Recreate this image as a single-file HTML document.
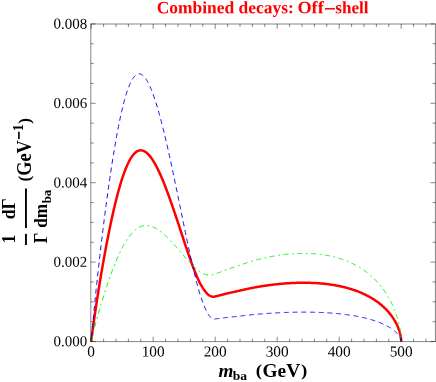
<!DOCTYPE html>
<html><head><meta charset="utf-8"><title>Combined decays: Off-shell</title>
<style>
html,body{margin:0;padding:0;background:#fff;}
svg{display:block;will-change:transform;font-family:"Liberation Serif",serif;}
</style></head>
<body>
<svg width="436" height="382" viewBox="0 0 436 382">
<rect width="436" height="382" fill="#ffffff"/>
<path d="M91.20,341.50 L91.82,336.66 L92.44,331.93 L93.06,327.31 L93.68,322.79 L94.30,318.36 L94.92,314.02 L95.54,309.77 L96.16,305.59 L96.78,301.49 L97.40,297.45 L98.02,293.48 L98.64,289.58 L99.26,285.73 L99.88,281.94 L100.50,278.20 L101.12,274.52 L101.74,270.89 L102.36,267.31 L102.98,263.77 L103.60,260.29 L104.22,256.85 L104.84,253.46 L105.46,250.11 L106.08,246.81 L106.70,243.56 L107.32,240.35 L107.94,237.18 L108.56,234.07 L109.18,231.00 L109.80,227.97 L110.42,225.00 L111.04,222.07 L111.66,219.19 L112.28,216.36 L112.90,213.58 L113.52,210.86 L114.14,208.18 L114.76,205.56 L115.38,202.99 L116.00,200.47 L116.62,198.01 L117.24,195.61 L117.86,193.26 L118.48,190.97 L119.10,188.74 L119.72,186.57 L120.34,184.46 L120.96,182.40 L121.58,180.41 L122.20,178.48 L122.82,176.62 L123.44,174.81 L124.06,173.07 L124.68,171.39 L125.30,169.78 L125.92,168.23 L126.54,166.74 L127.16,165.32 L127.78,163.97 L128.40,162.68 L129.02,161.45 L129.64,160.29 L130.26,159.20 L130.88,158.17 L131.50,157.20 L132.12,156.30 L132.74,155.47 L133.36,154.70 L133.98,153.99 L134.60,153.35 L135.22,152.77 L135.84,152.26 L136.46,151.80 L137.08,151.41 L137.70,151.08 L138.32,150.82 L138.94,150.61 L139.56,150.46 L140.18,150.37 L140.80,150.34 L141.42,150.37 L142.04,150.46 L142.66,150.60 L143.28,150.79 L143.90,151.05 L144.52,151.35 L145.14,151.71 L145.76,152.12 L146.38,152.58 L147.00,153.10 L147.62,153.66 L148.24,154.27 L148.86,154.93 L149.48,155.63 L150.10,156.38 L150.72,157.18 L151.34,158.02 L151.96,158.90 L152.58,159.83 L153.20,160.79 L153.82,161.80 L154.44,162.85 L155.06,163.93 L155.68,165.05 L156.30,166.21 L156.92,167.40 L157.54,168.63 L158.16,169.89 L158.78,171.19 L159.40,172.51 L160.02,173.87 L160.64,175.25 L161.26,176.67 L161.88,178.11 L162.50,179.59 L163.12,181.08 L163.74,182.61 L164.36,184.15 L164.98,185.73 L165.60,187.32 L166.22,188.94 L166.84,190.58 L167.46,192.23 L168.08,193.91 L168.70,195.61 L169.32,197.32 L169.94,199.05 L170.56,200.80 L171.18,202.56 L171.80,204.34 L172.42,206.13 L173.04,207.94 L173.66,209.75 L174.28,211.58 L174.90,213.41 L175.52,215.26 L176.14,217.11 L176.76,218.97 L177.38,220.84 L178.00,222.71 L178.62,224.59 L179.24,226.47 L179.86,228.35 L180.48,230.24 L181.10,232.12 L181.72,234.00 L182.34,235.89 L182.96,237.76 L183.58,239.64 L184.20,241.51 L184.82,243.37 L185.44,245.23 L186.06,247.08 L186.68,248.91 L187.30,250.74 L187.92,252.55 L188.54,254.35 L189.16,256.13 L189.78,257.90 L190.40,259.64 L191.02,261.37 L191.64,263.08 L192.26,264.76 L192.88,266.42 L193.50,268.05 L194.12,269.66 L194.74,271.23 L195.36,272.78 L195.98,274.29 L196.60,275.77 L197.22,277.21 L197.84,278.62 L198.46,279.98 L199.08,281.31 L199.70,282.58 L200.32,283.76 L200.94,284.86 L201.56,285.91 L202.18,286.94 L202.80,287.92 L203.42,288.85 L204.04,289.73 L204.66,290.58 L205.28,291.40 L205.90,292.18 L206.52,292.92 L207.14,293.60 L207.76,294.22 L208.38,294.76 L209.00,295.22 L209.62,295.62 L210.24,295.94 L210.86,296.21 L211.48,296.43 L212.10,296.63 L212.72,296.77 L213.34,296.81 L213.96,296.74 L214.58,296.60 L215.20,296.45 L215.82,296.29 L216.44,296.14 L217.06,295.99 L217.68,295.84 L218.30,295.69 L218.92,295.55 L219.54,295.40 L220.16,295.24 L220.78,295.08 L221.40,294.92 L222.02,294.76 L222.64,294.60 L223.26,294.43 L223.88,294.27 L224.50,294.11 L225.12,293.95 L225.74,293.79 L226.36,293.63 L226.98,293.48 L227.60,293.32 L228.22,293.17 L228.84,293.03 L229.46,292.89 L230.08,292.75 L230.70,292.62 L231.32,292.50 L231.94,292.37 L232.56,292.25 L233.18,292.12 L233.80,291.99 L234.42,291.86 L235.04,291.72 L235.66,291.58 L236.28,291.44 L236.90,291.29 L237.52,291.15 L238.14,291.01 L238.76,290.86 L239.38,290.72 L240.00,290.58 L240.62,290.43 L241.24,290.29 L241.86,290.15 L242.48,290.00 L243.10,289.86 L243.72,289.72 L244.34,289.58 L244.96,289.44 L245.58,289.30 L246.20,289.16 L246.82,289.03 L247.44,288.89 L248.06,288.75 L248.68,288.62 L249.30,288.49 L249.92,288.36 L250.54,288.23 L251.16,288.11 L251.78,287.98 L252.40,287.86 L253.02,287.74 L253.64,287.62 L254.26,287.50 L254.88,287.39 L255.50,287.28 L256.12,287.17 L256.74,287.06 L257.36,286.95 L257.98,286.85 L258.60,286.74 L259.22,286.64 L259.84,286.54 L260.46,286.43 L261.08,286.33 L261.70,286.24 L262.32,286.14 L262.94,286.04 L263.56,285.95 L264.18,285.85 L264.80,285.76 L265.42,285.67 L266.04,285.58 L266.66,285.49 L267.28,285.40 L267.90,285.31 L268.52,285.23 L269.14,285.15 L269.76,285.06 L270.38,284.98 L271.00,284.90 L271.62,284.82 L272.24,284.75 L272.86,284.67 L273.48,284.60 L274.10,284.52 L274.72,284.45 L275.34,284.38 L275.96,284.32 L276.58,284.25 L277.20,284.18 L277.82,284.12 L278.44,284.06 L279.06,284.00 L279.68,283.94 L280.30,283.88 L280.92,283.82 L281.54,283.77 L282.16,283.71 L282.78,283.66 L283.40,283.61 L284.02,283.56 L284.64,283.51 L285.26,283.46 L285.88,283.42 L286.50,283.37 L287.12,283.33 L287.74,283.29 L288.36,283.25 L288.98,283.21 L289.60,283.17 L290.22,283.14 L290.84,283.10 L291.46,283.07 L292.08,283.04 L292.70,283.01 L293.32,282.98 L293.94,282.95 L294.56,282.93 L295.18,282.91 L295.80,282.88 L296.42,282.86 L297.04,282.85 L297.66,282.83 L298.28,282.81 L298.90,282.80 L299.52,282.79 L300.14,282.78 L300.76,282.77 L301.38,282.76 L302.00,282.75 L302.62,282.75 L303.24,282.75 L303.86,282.75 L304.48,282.75 L305.10,282.75 L305.72,282.76 L306.34,282.76 L306.96,282.77 L307.58,282.78 L308.20,282.79 L308.82,282.80 L309.44,282.82 L310.06,282.84 L310.68,282.86 L311.30,282.88 L311.92,282.90 L312.54,282.92 L313.16,282.95 L313.78,282.98 L314.40,283.01 L315.02,283.04 L315.64,283.08 L316.26,283.11 L316.88,283.15 L317.50,283.19 L318.12,283.23 L318.74,283.28 L319.36,283.33 L319.98,283.37 L320.60,283.43 L321.22,283.48 L321.84,283.53 L322.46,283.59 L323.08,283.65 L323.70,283.71 L324.32,283.78 L324.94,283.84 L325.56,283.91 L326.18,283.98 L326.80,284.06 L327.42,284.13 L328.04,284.21 L328.66,284.29 L329.28,284.37 L329.90,284.46 L330.52,284.55 L331.14,284.64 L331.76,284.73 L332.38,284.83 L333.00,284.92 L333.62,285.02 L334.24,285.13 L334.86,285.23 L335.48,285.34 L336.10,285.45 L336.72,285.57 L337.34,285.69 L337.96,285.81 L338.58,285.93 L339.20,286.06 L339.82,286.18 L340.44,286.32 L341.06,286.45 L341.68,286.59 L342.30,286.73 L342.92,286.88 L343.54,287.02 L344.16,287.17 L344.78,287.33 L345.40,287.49 L346.02,287.65 L346.64,287.81 L347.26,287.98 L347.88,288.15 L348.50,288.33 L349.12,288.50 L349.74,288.69 L350.36,288.87 L350.98,289.06 L351.60,289.26 L352.22,289.45 L352.84,289.66 L353.46,289.86 L354.08,290.07 L354.70,290.29 L355.32,290.51 L355.94,290.73 L356.56,290.96 L357.18,291.19 L357.80,291.42 L358.42,291.67 L359.04,291.91 L359.66,292.16 L360.28,292.42 L360.90,292.68 L361.52,292.94 L362.14,293.22 L362.76,293.49 L363.38,293.77 L364.00,294.06 L364.62,294.35 L365.24,294.65 L365.86,294.96 L366.48,295.27 L367.10,295.59 L367.72,295.91 L368.34,296.24 L368.96,296.58 L369.58,296.92 L370.20,297.27 L370.82,297.63 L371.44,297.99 L372.06,298.36 L372.68,298.75 L373.30,299.13 L373.92,299.53 L374.54,299.93 L375.16,300.35 L375.78,300.77 L376.40,301.20 L377.02,301.64 L377.64,302.09 L378.26,302.55 L378.88,303.03 L379.50,303.51 L380.12,304.00 L380.74,304.51 L381.36,305.02 L381.98,305.55 L382.60,306.10 L383.22,306.65 L383.84,307.22 L384.46,307.81 L385.08,308.41 L385.70,309.03 L386.32,309.66 L386.94,310.32 L387.56,310.99 L388.18,311.68 L388.80,312.40 L389.01,312.64 L389.21,312.88 L389.42,313.13 L389.62,313.38 L389.82,313.62 L390.02,313.87 L390.22,314.12 L390.41,314.36 L390.60,314.61 L390.80,314.86 L390.99,315.11 L391.17,315.36 L391.36,315.61 L391.55,315.86 L391.73,316.11 L391.91,316.36 L392.09,316.61 L392.27,316.87 L392.44,317.12 L392.62,317.37 L392.79,317.62 L392.96,317.88 L393.13,318.13 L393.30,318.38 L393.46,318.64 L393.63,318.89 L393.79,319.15 L393.95,319.40 L394.11,319.66 L394.26,319.92 L394.42,320.17 L394.57,320.43 L394.72,320.68 L394.87,320.94 L395.02,321.20 L395.17,321.46 L395.31,321.71 L395.45,321.97 L395.60,322.23 L395.74,322.49 L395.87,322.74 L396.01,323.00 L396.14,323.26 L396.27,323.52 L396.40,323.78 L396.53,324.03 L396.66,324.29 L396.79,324.55 L396.91,324.81 L397.03,325.07 L397.15,325.33 L397.27,325.59 L397.39,325.84 L397.50,326.10 L397.61,326.36 L397.72,326.62 L397.83,326.88 L397.94,327.13 L398.05,327.39 L398.15,327.65 L398.25,327.91 L398.36,328.16 L398.45,328.42 L398.55,328.68 L398.65,328.94 L398.74,329.19 L398.83,329.45 L398.92,329.70 L399.01,329.96 L399.10,330.22 L399.18,330.47 L399.27,330.72 L399.35,330.98 L399.43,331.23 L399.50,331.49 L399.58,331.74 L399.66,331.99 L399.73,332.24 L399.80,332.49 L399.87,332.74 L399.94,333.00 L400.00,333.24 L400.07,333.49 L400.13,333.74 L400.19,333.99 L400.25,334.24 L400.30,334.48 L400.36,334.73 L400.41,334.97 L400.46,335.22 L400.51,335.46 L400.56,335.70 L400.61,335.94 L400.65,336.18 L400.70,336.42 L400.74,336.66 L400.78,336.89 L400.81,337.13 L400.85,337.36 L400.88,337.59 L400.92,337.83 L400.95,338.06 L400.98,338.28 L401.00,338.51 L401.03,338.73 L401.05,338.95 L401.07,339.17 L401.09,339.39 L401.11,339.61 L401.13,339.82 L401.14,340.03 L401.16,340.24 L401.17,340.44 L401.18,340.64 L401.19,340.83 L401.19,341.01 L401.20,341.19 L401.20,341.36 L401.20,341.50" fill="none" stroke="#ff0000" stroke-width="2.5" stroke-linejoin="round"/>
<path d="M91.20,341.50 L91.82,334.47 L92.44,327.62 L93.06,320.93 L93.68,314.40 L94.30,308.00 L94.92,301.73 L95.54,295.59 L96.16,289.57 L96.78,283.66 L97.40,277.85 L98.02,272.14 L98.64,266.52 L99.26,260.99 L99.88,255.55 L100.50,250.19 L101.12,244.91 L101.74,239.70 L102.36,234.57 L102.98,229.52 L103.60,224.53 L104.22,219.62 L104.84,214.77 L105.46,210.00 L106.08,205.29 L106.70,200.65 L107.32,196.08 L107.94,191.58 L108.56,187.15 L109.18,182.79 L109.80,178.49 L110.42,174.27 L111.04,170.13 L111.66,166.05 L112.28,162.05 L112.90,158.13 L113.52,154.28 L114.14,150.51 L114.76,146.82 L115.38,143.21 L116.00,139.69 L116.62,136.24 L117.24,132.88 L117.86,129.60 L118.48,126.41 L119.10,123.31 L119.72,120.30 L120.34,117.37 L120.96,114.54 L121.58,111.79 L122.20,109.14 L122.82,106.59 L123.44,104.12 L124.06,101.75 L124.68,99.48 L125.30,97.30 L125.92,95.22 L126.54,93.23 L127.16,91.34 L127.78,89.55 L128.40,87.86 L129.02,86.26 L129.64,84.76 L130.26,83.36 L130.88,82.06 L131.50,80.85 L132.12,79.74 L132.74,78.73 L133.36,77.81 L133.98,76.99 L134.60,76.27 L135.22,75.64 L135.84,75.11 L136.46,74.67 L137.08,74.32 L137.70,74.07 L138.32,73.91 L138.94,73.83 L139.56,73.85 L140.18,73.96 L140.80,74.15 L141.42,74.43 L142.04,74.80 L142.66,75.25 L143.28,75.78 L143.90,76.40 L144.52,77.09 L145.14,77.87 L145.76,78.72 L146.38,79.65 L147.00,80.66 L147.62,81.74 L148.24,82.89 L148.86,84.12 L149.48,85.41 L150.10,86.77 L150.72,88.20 L151.34,89.70 L151.96,91.26 L152.58,92.88 L153.20,94.56 L153.82,96.30 L154.44,98.10 L155.06,99.96 L155.68,101.88 L156.30,103.84 L156.92,105.86 L157.54,107.94 L158.16,110.06 L158.78,112.23 L159.40,114.45 L160.02,116.71 L160.64,119.02 L161.26,121.37 L161.88,123.76 L162.50,126.20 L163.12,128.67 L163.74,131.18 L164.36,133.73 L164.98,136.31 L165.60,138.92 L166.22,141.57 L166.84,144.25 L167.46,146.96 L168.08,149.70 L168.70,152.47 L169.32,155.26 L169.94,158.08 L170.56,160.92 L171.18,163.78 L171.80,166.66 L172.42,169.57 L173.04,172.49 L173.66,175.43 L174.28,178.38 L174.90,181.35 L175.52,184.34 L176.14,187.33 L176.76,190.34 L177.38,193.35 L178.00,196.37 L178.62,199.40 L179.24,202.43 L179.86,205.47 L180.48,208.51 L181.10,211.54 L181.72,214.58 L182.34,217.61 L182.96,220.64 L183.58,223.67 L184.20,226.68 L184.82,229.69 L185.44,232.68 L186.06,235.66 L186.68,238.62 L187.30,241.57 L187.92,244.50 L188.54,247.40 L189.16,250.28 L189.78,253.14 L190.40,255.97 L191.02,258.76 L191.64,261.53 L192.26,264.26 L192.88,266.95 L193.50,269.61 L194.12,272.22 L194.74,274.78 L195.36,277.30 L195.98,279.78 L196.60,282.19 L197.22,284.56 L197.84,286.86 L198.46,289.11 L199.08,291.29 L199.70,293.40 L200.32,295.37 L200.94,297.22 L201.56,299.00 L202.18,300.74 L202.80,302.41 L203.42,304.00 L204.04,305.53 L204.66,307.00 L205.28,308.43 L205.90,309.80 L206.52,311.11 L207.14,312.33 L207.76,313.45 L208.38,314.46 L209.00,315.35 L209.62,316.14 L210.24,316.82 L210.86,317.42 L211.48,317.94 L212.10,318.43 L212.72,318.83 L213.34,319.07 L213.96,319.13 L214.58,319.07 L215.20,318.99 L215.82,318.90 L216.44,318.82 L217.06,318.75 L217.68,318.67 L218.30,318.60 L218.92,318.52 L219.54,318.45 L220.16,318.37 L220.78,318.29 L221.40,318.21 L222.02,318.13 L222.64,318.05 L223.26,317.97 L223.88,317.89 L224.50,317.80 L225.12,317.72 L225.74,317.64 L226.36,317.57 L226.98,317.49 L227.60,317.41 L228.22,317.34 L228.84,317.26 L229.46,317.19 L230.08,317.13 L230.70,317.06 L231.32,317.00 L231.94,316.94 L232.56,316.87 L233.18,316.81 L233.80,316.74 L234.42,316.68 L235.04,316.61 L235.66,316.54 L236.28,316.47 L236.90,316.40 L237.52,316.33 L238.14,316.25 L238.76,316.18 L239.38,316.11 L240.00,316.04 L240.62,315.97 L241.24,315.90 L241.86,315.82 L242.48,315.75 L243.10,315.68 L243.72,315.61 L244.34,315.54 L244.96,315.47 L245.58,315.40 L246.20,315.33 L246.82,315.26 L247.44,315.19 L248.06,315.13 L248.68,315.06 L249.30,315.00 L249.92,314.93 L250.54,314.87 L251.16,314.80 L251.78,314.74 L252.40,314.68 L253.02,314.62 L253.64,314.56 L254.26,314.50 L254.88,314.45 L255.50,314.39 L256.12,314.34 L256.74,314.28 L257.36,314.23 L257.98,314.17 L258.60,314.12 L259.22,314.07 L259.84,314.02 L260.46,313.97 L261.08,313.92 L261.70,313.87 L262.32,313.82 L262.94,313.77 L263.56,313.72 L264.18,313.68 L264.80,313.63 L265.42,313.58 L266.04,313.54 L266.66,313.49 L267.28,313.45 L267.90,313.41 L268.52,313.36 L269.14,313.32 L269.76,313.28 L270.38,313.24 L271.00,313.20 L271.62,313.16 L272.24,313.12 L272.86,313.09 L273.48,313.05 L274.10,313.01 L274.72,312.98 L275.34,312.94 L275.96,312.91 L276.58,312.87 L277.20,312.84 L277.82,312.81 L278.44,312.78 L279.06,312.75 L279.68,312.72 L280.30,312.69 L280.92,312.66 L281.54,312.63 L282.16,312.61 L282.78,312.58 L283.40,312.55 L284.02,312.53 L284.64,312.50 L285.26,312.48 L285.88,312.46 L286.50,312.44 L287.12,312.41 L287.74,312.39 L288.36,312.37 L288.98,312.35 L289.60,312.34 L290.22,312.32 L290.84,312.30 L291.46,312.29 L292.08,312.27 L292.70,312.25 L293.32,312.24 L293.94,312.23 L294.56,312.21 L295.18,312.20 L295.80,312.19 L296.42,312.18 L297.04,312.17 L297.66,312.16 L298.28,312.16 L298.90,312.15 L299.52,312.14 L300.14,312.14 L300.76,312.13 L301.38,312.13 L302.00,312.13 L302.62,312.13 L303.24,312.12 L303.86,312.12 L304.48,312.12 L305.10,312.13 L305.72,312.13 L306.34,312.13 L306.96,312.13 L307.58,312.14 L308.20,312.15 L308.82,312.15 L309.44,312.16 L310.06,312.17 L310.68,312.18 L311.30,312.19 L311.92,312.20 L312.54,312.21 L313.16,312.23 L313.78,312.24 L314.40,312.26 L315.02,312.27 L315.64,312.29 L316.26,312.31 L316.88,312.33 L317.50,312.35 L318.12,312.37 L318.74,312.39 L319.36,312.41 L319.98,312.44 L320.60,312.46 L321.22,312.49 L321.84,312.52 L322.46,312.55 L323.08,312.58 L323.70,312.61 L324.32,312.64 L324.94,312.67 L325.56,312.71 L326.18,312.74 L326.80,312.78 L327.42,312.82 L328.04,312.85 L328.66,312.90 L329.28,312.94 L329.90,312.98 L330.52,313.02 L331.14,313.07 L331.76,313.11 L332.38,313.16 L333.00,313.21 L333.62,313.26 L334.24,313.31 L334.86,313.37 L335.48,313.42 L336.10,313.48 L336.72,313.53 L337.34,313.59 L337.96,313.65 L338.58,313.71 L339.20,313.78 L339.82,313.84 L340.44,313.91 L341.06,313.98 L341.68,314.04 L342.30,314.12 L342.92,314.19 L343.54,314.26 L344.16,314.34 L344.78,314.41 L345.40,314.49 L346.02,314.57 L346.64,314.66 L347.26,314.74 L347.88,314.83 L348.50,314.91 L349.12,315.00 L349.74,315.09 L350.36,315.19 L350.98,315.28 L351.60,315.38 L352.22,315.48 L352.84,315.58 L353.46,315.68 L354.08,315.79 L354.70,315.89 L355.32,316.00 L355.94,316.11 L356.56,316.23 L357.18,316.34 L357.80,316.46 L358.42,316.58 L359.04,316.71 L359.66,316.83 L360.28,316.96 L360.90,317.09 L361.52,317.22 L362.14,317.36 L362.76,317.50 L363.38,317.64 L364.00,317.78 L364.62,317.93 L365.24,318.08 L365.86,318.23 L366.48,318.38 L367.10,318.54 L367.72,318.70 L368.34,318.87 L368.96,319.04 L369.58,319.21 L370.20,319.39 L370.82,319.56 L371.44,319.75 L372.06,319.93 L372.68,320.12 L373.30,320.32 L373.92,320.51 L374.54,320.72 L375.16,320.92 L375.78,321.13 L376.40,321.35 L377.02,321.57 L377.64,321.80 L378.26,322.03 L378.88,322.26 L379.50,322.50 L380.12,322.75 L380.74,323.00 L381.36,323.26 L381.98,323.53 L382.60,323.80 L383.22,324.08 L383.84,324.36 L384.46,324.65 L385.08,324.96 L385.70,325.26 L386.32,325.58 L386.94,325.91 L387.56,326.24 L388.18,326.59 L388.80,326.95 L389.01,327.07 L389.21,327.19 L389.42,327.31 L389.62,327.44 L389.82,327.56 L390.02,327.68 L390.22,327.81 L390.41,327.93 L390.60,328.06 L390.80,328.18 L390.99,328.30 L391.17,328.43 L391.36,328.55 L391.55,328.68 L391.73,328.81 L391.91,328.93 L392.09,329.06 L392.27,329.18 L392.44,329.31 L392.62,329.44 L392.79,329.56 L392.96,329.69 L393.13,329.82 L393.30,329.94 L393.46,330.07 L393.63,330.20 L393.79,330.32 L393.95,330.45 L394.11,330.58 L394.26,330.71 L394.42,330.84 L394.57,330.96 L394.72,331.09 L394.87,331.22 L395.02,331.35 L395.17,331.48 L395.31,331.61 L395.45,331.74 L395.60,331.86 L395.74,331.99 L395.87,332.12 L396.01,332.25 L396.14,332.38 L396.27,332.51 L396.40,332.64 L396.53,332.77 L396.66,332.90 L396.79,333.03 L396.91,333.16 L397.03,333.28 L397.15,333.41 L397.27,333.54 L397.39,333.67 L397.50,333.80 L397.61,333.93 L397.72,334.06 L397.83,334.19 L397.94,334.32 L398.05,334.45 L398.15,334.58 L398.25,334.70 L398.36,334.83 L398.45,334.96 L398.55,335.09 L398.65,335.22 L398.74,335.35 L398.83,335.47 L398.92,335.60 L399.01,335.73 L399.10,335.86 L399.18,335.98 L399.27,336.11 L399.35,336.24 L399.43,336.37 L399.50,336.49 L399.58,336.62 L399.66,336.75 L399.73,336.87 L399.80,337.00 L399.87,337.12 L399.94,337.25 L400.00,337.37 L400.07,337.50 L400.13,337.62 L400.19,337.74 L400.25,337.87 L400.30,337.99 L400.36,338.11 L400.41,338.24 L400.46,338.36 L400.51,338.48 L400.56,338.60 L400.61,338.72 L400.65,338.84 L400.70,338.96 L400.74,339.08 L400.78,339.20 L400.81,339.31 L400.85,339.43 L400.88,339.55 L400.92,339.66 L400.95,339.78 L400.98,339.89 L401.00,340.00 L401.03,340.12 L401.05,340.23 L401.07,340.34 L401.09,340.45 L401.11,340.55 L401.13,340.66 L401.14,340.76 L401.16,340.87 L401.17,340.97 L401.18,341.07 L401.19,341.16 L401.19,341.26 L401.20,341.35 L401.20,341.43 L401.20,341.50" fill="none" stroke="#0606ff" stroke-width="0.95" stroke-dasharray="5 3.72" stroke-dashoffset="4.2"/>
<path d="M91.20,341.50 L91.82,338.84 L92.44,336.23 L93.06,333.68 L93.68,331.18 L94.30,328.72 L94.92,326.31 L95.54,323.94 L96.16,321.61 L96.78,319.32 L97.40,317.06 L98.02,314.83 L98.64,312.63 L99.26,310.47 L99.88,308.33 L100.50,306.22 L101.12,304.13 L101.74,302.08 L102.36,300.04 L102.98,298.03 L103.60,296.05 L104.22,294.08 L104.84,292.14 L105.46,290.23 L106.08,288.33 L106.70,286.46 L107.32,284.61 L107.94,282.79 L108.56,280.99 L109.18,279.21 L109.80,277.45 L110.42,275.72 L111.04,274.01 L111.66,272.33 L112.28,270.67 L112.90,269.04 L113.52,267.43 L114.14,265.85 L114.76,264.29 L115.38,262.76 L116.00,261.26 L116.62,259.79 L117.24,258.34 L117.86,256.92 L118.48,255.53 L119.10,254.17 L119.72,252.84 L120.34,251.54 L120.96,250.27 L121.58,249.03 L122.20,247.82 L122.82,246.65 L123.44,245.50 L124.06,244.39 L124.68,243.31 L125.30,242.26 L125.92,241.24 L126.54,240.25 L127.16,239.30 L127.78,238.38 L128.40,237.50 L129.02,236.64 L129.64,235.82 L130.26,235.03 L130.88,234.28 L131.50,233.56 L132.12,232.86 L132.74,232.21 L133.36,231.58 L133.98,230.99 L134.60,230.43 L135.22,229.90 L135.84,229.40 L136.46,228.94 L137.08,228.50 L137.70,228.10 L138.32,227.73 L138.94,227.38 L139.56,227.07 L140.18,226.79 L140.80,226.54 L141.42,226.31 L142.04,226.12 L142.66,225.95 L143.28,225.81 L143.90,225.70 L144.52,225.61 L145.14,225.55 L145.76,225.52 L146.38,225.51 L147.00,225.53 L147.62,225.58 L148.24,225.65 L148.86,225.74 L149.48,225.85 L150.10,225.99 L150.72,226.16 L151.34,226.34 L151.96,226.55 L152.58,226.78 L153.20,227.03 L153.82,227.30 L154.44,227.59 L155.06,227.90 L155.68,228.23 L156.30,228.57 L156.92,228.94 L157.54,229.32 L158.16,229.72 L158.78,230.14 L159.40,230.58 L160.02,231.03 L160.64,231.49 L161.26,231.97 L161.88,232.47 L162.50,232.98 L163.12,233.50 L163.74,234.04 L164.36,234.58 L164.98,235.15 L165.60,235.72 L166.22,236.30 L166.84,236.90 L167.46,237.51 L168.08,238.12 L168.70,238.75 L169.32,239.39 L169.94,240.03 L170.56,240.69 L171.18,241.35 L171.80,242.02 L172.42,242.70 L173.04,243.38 L173.66,244.07 L174.28,244.77 L174.90,245.47 L175.52,246.18 L176.14,246.89 L176.76,247.61 L177.38,248.33 L178.00,249.05 L178.62,249.78 L179.24,250.51 L179.86,251.24 L180.48,251.97 L181.10,252.70 L181.72,253.43 L182.34,254.16 L182.96,254.89 L183.58,255.61 L184.20,256.34 L184.82,257.06 L185.44,257.78 L186.06,258.49 L186.68,259.20 L187.30,259.90 L187.92,260.60 L188.54,261.29 L189.16,261.98 L189.78,262.65 L190.40,263.32 L191.02,263.98 L191.64,264.63 L192.26,265.26 L192.88,265.89 L193.50,266.50 L194.12,267.10 L194.74,267.69 L195.36,268.26 L195.98,268.81 L196.60,269.35 L197.22,269.87 L197.84,270.37 L198.46,270.85 L199.08,271.32 L199.70,271.75 L200.32,272.15 L200.94,272.50 L201.56,272.83 L202.18,273.14 L202.80,273.43 L203.42,273.69 L204.04,273.93 L204.66,274.16 L205.28,274.37 L205.90,274.56 L206.52,274.73 L207.14,274.87 L207.76,274.98 L208.38,275.06 L209.00,275.10 L209.62,275.10 L210.24,275.06 L210.86,275.00 L211.48,274.92 L212.10,274.83 L212.72,274.72 L213.34,274.56 L213.96,274.36 L214.58,274.13 L215.20,273.91 L215.82,273.69 L216.44,273.46 L217.06,273.24 L217.68,273.01 L218.30,272.79 L218.92,272.57 L219.54,272.35 L220.16,272.11 L220.78,271.88 L221.40,271.63 L222.02,271.39 L222.64,271.14 L223.26,270.90 L223.88,270.66 L224.50,270.41 L225.12,270.17 L225.74,269.93 L226.36,269.70 L226.98,269.46 L227.60,269.23 L228.22,269.01 L228.84,268.79 L229.46,268.58 L230.08,268.38 L230.70,268.19 L231.32,268.00 L231.94,267.81 L232.56,267.62 L233.18,267.43 L233.80,267.23 L234.42,267.03 L235.04,266.83 L235.66,266.62 L236.28,266.40 L236.90,266.19 L237.52,265.98 L238.14,265.76 L238.76,265.55 L239.38,265.33 L240.00,265.12 L240.62,264.90 L241.24,264.69 L241.86,264.47 L242.48,264.26 L243.10,264.04 L243.72,263.83 L244.34,263.62 L244.96,263.41 L245.58,263.20 L246.20,262.99 L246.82,262.79 L247.44,262.58 L248.06,262.38 L248.68,262.18 L249.30,261.99 L249.92,261.79 L250.54,261.60 L251.16,261.41 L251.78,261.22 L252.40,261.04 L253.02,260.86 L253.64,260.68 L254.26,260.51 L254.88,260.34 L255.50,260.17 L256.12,260.01 L256.74,259.84 L257.36,259.68 L257.98,259.52 L258.60,259.36 L259.22,259.21 L259.84,259.05 L260.46,258.90 L261.08,258.75 L261.70,258.60 L262.32,258.46 L262.94,258.31 L263.56,258.17 L264.18,258.03 L264.80,257.89 L265.42,257.75 L266.04,257.62 L266.66,257.48 L267.28,257.35 L267.90,257.22 L268.52,257.09 L269.14,256.97 L269.76,256.84 L270.38,256.72 L271.00,256.60 L271.62,256.49 L272.24,256.37 L272.86,256.26 L273.48,256.15 L274.10,256.04 L274.72,255.93 L275.34,255.83 L275.96,255.72 L276.58,255.62 L277.20,255.52 L277.82,255.43 L278.44,255.33 L279.06,255.24 L279.68,255.15 L280.30,255.07 L280.92,254.98 L281.54,254.90 L282.16,254.82 L282.78,254.74 L283.40,254.66 L284.02,254.59 L284.64,254.51 L285.26,254.44 L285.88,254.37 L286.50,254.31 L287.12,254.24 L287.74,254.18 L288.36,254.12 L288.98,254.06 L289.60,254.01 L290.22,253.96 L290.84,253.90 L291.46,253.86 L292.08,253.81 L292.70,253.76 L293.32,253.72 L293.94,253.68 L294.56,253.64 L295.18,253.61 L295.80,253.58 L296.42,253.55 L297.04,253.52 L297.66,253.49 L298.28,253.47 L298.90,253.45 L299.52,253.43 L300.14,253.41 L300.76,253.40 L301.38,253.39 L302.00,253.38 L302.62,253.38 L303.24,253.37 L303.86,253.37 L304.48,253.37 L305.10,253.38 L305.72,253.38 L306.34,253.39 L306.96,253.40 L307.58,253.42 L308.20,253.44 L308.82,253.46 L309.44,253.48 L310.06,253.51 L310.68,253.53 L311.30,253.57 L311.92,253.60 L312.54,253.64 L313.16,253.68 L313.78,253.72 L314.40,253.77 L315.02,253.81 L315.64,253.87 L316.26,253.92 L316.88,253.98 L317.50,254.04 L318.12,254.10 L318.74,254.17 L319.36,254.24 L319.98,254.31 L320.60,254.39 L321.22,254.47 L321.84,254.55 L322.46,254.64 L323.08,254.73 L323.70,254.82 L324.32,254.91 L324.94,255.01 L325.56,255.12 L326.18,255.22 L326.80,255.33 L327.42,255.45 L328.04,255.56 L328.66,255.69 L329.28,255.81 L329.90,255.94 L330.52,256.07 L331.14,256.21 L331.76,256.34 L332.38,256.49 L333.00,256.64 L333.62,256.79 L334.24,256.94 L334.86,257.10 L335.48,257.26 L336.10,257.43 L336.72,257.60 L337.34,257.78 L337.96,257.96 L338.58,258.14 L339.20,258.33 L339.82,258.53 L340.44,258.73 L341.06,258.93 L341.68,259.13 L342.30,259.35 L342.92,259.56 L343.54,259.78 L344.16,260.01 L344.78,260.24 L345.40,260.48 L346.02,260.72 L346.64,260.97 L347.26,261.22 L347.88,261.48 L348.50,261.74 L349.12,262.01 L349.74,262.28 L350.36,262.56 L350.98,262.84 L351.60,263.14 L352.22,263.43 L352.84,263.74 L353.46,264.04 L354.08,264.36 L354.70,264.68 L355.32,265.01 L355.94,265.34 L356.56,265.68 L357.18,266.03 L357.80,266.39 L358.42,266.75 L359.04,267.12 L359.66,267.49 L360.28,267.88 L360.90,268.27 L361.52,268.67 L362.14,269.07 L362.76,269.49 L363.38,269.91 L364.00,270.34 L364.62,270.78 L365.24,271.23 L365.86,271.69 L366.48,272.15 L367.10,272.63 L367.72,273.11 L368.34,273.61 L368.96,274.11 L369.58,274.63 L370.20,275.16 L370.82,275.69 L371.44,276.24 L372.06,276.80 L372.68,277.37 L373.30,277.95 L373.92,278.54 L374.54,279.15 L375.16,279.77 L375.78,280.40 L376.40,281.05 L377.02,281.71 L377.64,282.39 L378.26,283.08 L378.88,283.79 L379.50,284.51 L380.12,285.25 L380.74,286.01 L381.36,286.78 L381.98,287.58 L382.60,288.39 L383.22,289.23 L383.84,290.08 L384.46,290.96 L385.08,291.87 L385.70,292.79 L386.32,293.74 L386.94,294.72 L387.56,295.73 L388.18,296.77 L388.80,297.84 L389.01,298.21 L389.21,298.58 L389.42,298.94 L389.62,299.31 L389.82,299.68 L390.02,300.05 L390.22,300.42 L390.41,300.79 L390.60,301.17 L390.80,301.54 L390.99,301.91 L391.17,302.29 L391.36,302.66 L391.55,303.04 L391.73,303.42 L391.91,303.79 L392.09,304.17 L392.27,304.55 L392.44,304.93 L392.62,305.31 L392.79,305.69 L392.96,306.07 L393.13,306.45 L393.30,306.83 L393.46,307.21 L393.63,307.59 L393.79,307.97 L393.95,308.36 L394.11,308.74 L394.26,309.12 L394.42,309.51 L394.57,309.89 L394.72,310.28 L394.87,310.66 L395.02,311.05 L395.17,311.43 L395.31,311.82 L395.45,312.21 L395.60,312.59 L395.74,312.98 L395.87,313.37 L396.01,313.75 L396.14,314.14 L396.27,314.53 L396.40,314.91 L396.53,315.30 L396.66,315.69 L396.79,316.08 L396.91,316.47 L397.03,316.85 L397.15,317.24 L397.27,317.63 L397.39,318.02 L397.50,318.40 L397.61,318.79 L397.72,319.18 L397.83,319.56 L397.94,319.95 L398.05,320.34 L398.15,320.73 L398.25,321.11 L398.36,321.50 L398.45,321.88 L398.55,322.27 L398.65,322.65 L398.74,323.04 L398.83,323.42 L398.92,323.81 L399.01,324.19 L399.10,324.57 L399.18,324.95 L399.27,325.34 L399.35,325.72 L399.43,326.10 L399.50,326.48 L399.58,326.86 L399.66,327.24 L399.73,327.61 L399.80,327.99 L399.87,328.37 L399.94,328.74 L400.00,329.12 L400.07,329.49 L400.13,329.86 L400.19,330.23 L400.25,330.60 L400.30,330.97 L400.36,331.34 L400.41,331.71 L400.46,332.07 L400.51,332.44 L400.56,332.80 L400.61,333.16 L400.65,333.52 L400.70,333.88 L400.74,334.24 L400.78,334.59 L400.81,334.94 L400.85,335.29 L400.88,335.64 L400.92,335.99 L400.95,336.33 L400.98,336.67 L401.00,337.01 L401.03,337.35 L401.05,337.68 L401.07,338.01 L401.09,338.34 L401.11,338.66 L401.13,338.98 L401.14,339.29 L401.16,339.60 L401.17,339.91 L401.18,340.20 L401.19,340.49 L401.19,340.77 L401.20,341.04 L401.20,341.29 L401.20,341.50" fill="none" stroke="#00f400" stroke-width="0.95" stroke-dasharray="5.1 3.6 1.85 3.35" stroke-dashoffset="-0.8"/>
<rect x="90.8" y="24.0" width="344.65" height="317.6" fill="none" stroke="#000000" stroke-opacity="0.475" stroke-width="1.0"/>
<path d="M91.20,341.6v-4.9 M91.20,24.0v4.9 M103.60,341.6v-2.9 M103.60,24.0v2.9 M116.00,341.6v-2.9 M116.00,24.0v2.9 M128.40,341.6v-2.9 M128.40,24.0v2.9 M140.80,341.6v-2.9 M140.80,24.0v2.9 M153.20,341.6v-4.9 M153.20,24.0v4.9 M165.60,341.6v-2.9 M165.60,24.0v2.9 M178.00,341.6v-2.9 M178.00,24.0v2.9 M190.40,341.6v-2.9 M190.40,24.0v2.9 M202.80,341.6v-2.9 M202.80,24.0v2.9 M215.20,341.6v-4.9 M215.20,24.0v4.9 M227.60,341.6v-2.9 M227.60,24.0v2.9 M240.00,341.6v-2.9 M240.00,24.0v2.9 M252.40,341.6v-2.9 M252.40,24.0v2.9 M264.80,341.6v-2.9 M264.80,24.0v2.9 M277.20,341.6v-4.9 M277.20,24.0v4.9 M289.60,341.6v-2.9 M289.60,24.0v2.9 M302.00,341.6v-2.9 M302.00,24.0v2.9 M314.40,341.6v-2.9 M314.40,24.0v2.9 M326.80,341.6v-2.9 M326.80,24.0v2.9 M339.20,341.6v-4.9 M339.20,24.0v4.9 M351.60,341.6v-2.9 M351.60,24.0v2.9 M364.00,341.6v-2.9 M364.00,24.0v2.9 M376.40,341.6v-2.9 M376.40,24.0v2.9 M388.80,341.6v-2.9 M388.80,24.0v2.9 M401.20,341.6v-4.9 M401.20,24.0v4.9 M413.60,341.6v-2.9 M413.60,24.0v2.9 M426.00,341.6v-2.9 M426.00,24.0v2.9 M90.8,341.50h4.9 M435.45,341.50h-4.9 M90.8,321.65h2.9 M435.45,321.65h-2.9 M90.8,301.80h2.9 M435.45,301.80h-2.9 M90.8,281.95h2.9 M435.45,281.95h-2.9 M90.8,262.10h4.9 M435.45,262.10h-4.9 M90.8,242.25h2.9 M435.45,242.25h-2.9 M90.8,222.40h2.9 M435.45,222.40h-2.9 M90.8,202.55h2.9 M435.45,202.55h-2.9 M90.8,182.70h4.9 M435.45,182.70h-4.9 M90.8,162.85h2.9 M435.45,162.85h-2.9 M90.8,143.00h2.9 M435.45,143.00h-2.9 M90.8,123.15h2.9 M435.45,123.15h-2.9 M90.8,103.30h4.9 M435.45,103.30h-4.9 M90.8,83.45h2.9 M435.45,83.45h-2.9 M90.8,63.60h2.9 M435.45,63.60h-2.9 M90.8,43.75h2.9 M435.45,43.75h-2.9 M90.8,23.90h4.9 M435.45,23.90h-4.9" fill="none" stroke="#000000" stroke-opacity="0.475" stroke-width="1.0"/>
<text x="91.20" y="356.6" transform="rotate(0.03 91.20 356.6)" font-size="15.3" text-anchor="middle">0</text>
<text x="153.20" y="356.6" transform="rotate(0.03 153.20 356.6)" font-size="15.3" text-anchor="middle">100</text>
<text x="215.20" y="356.6" transform="rotate(0.03 215.20 356.6)" font-size="15.3" text-anchor="middle">200</text>
<text x="277.20" y="356.6" transform="rotate(0.03 277.20 356.6)" font-size="15.3" text-anchor="middle">300</text>
<text x="339.20" y="356.6" transform="rotate(0.03 339.20 356.6)" font-size="15.3" text-anchor="middle">400</text>
<text x="401.20" y="356.6" transform="rotate(0.03 401.20 356.6)" font-size="15.3" text-anchor="middle">500</text>
<text x="87.3" y="346.25" transform="rotate(0.03 87.3 346.25)" font-size="15" text-anchor="end">0.000</text>
<text x="87.3" y="266.85" transform="rotate(0.03 87.3 266.85)" font-size="15" text-anchor="end">0.002</text>
<text x="87.3" y="187.45" transform="rotate(0.03 87.3 187.45)" font-size="15" text-anchor="end">0.004</text>
<text x="87.3" y="108.05" transform="rotate(0.03 87.3 108.05)" font-size="15" text-anchor="end">0.006</text>
<text x="87.3" y="28.65" transform="rotate(0.03 87.3 28.65)" font-size="15" text-anchor="end">0.008</text>
<g transform="translate(0,13.3) rotate(0.03 262 0) scale(1,0.96)"><text x="156.7" y="0" text-rendering="geometricPrecision" font-size="18" font-weight="bold" fill="#ff0000" lengthAdjust="spacingAndGlyphs" textLength="77.6">Combined</text><text x="238.6" y="0" text-rendering="geometricPrecision" font-size="18" font-weight="bold" fill="#ff0000" lengthAdjust="spacingAndGlyphs" textLength="55.2">decays:</text><text x="297.4" y="0" text-rendering="geometricPrecision" font-size="18" font-weight="bold" fill="#ff0000" lengthAdjust="spacingAndGlyphs" textLength="26.4">Off</text><text x="335.3" y="0" text-rendering="geometricPrecision" font-size="18" font-weight="bold" fill="#ff0000" lengthAdjust="spacingAndGlyphs" textLength="33.3">shell</text></g><rect x="324.9" y="8.05" width="10" height="1.5" fill="#ff0000"/>
<text x="218.5" y="376.6" font-size="18.6" font-weight="bold" font-style="italic" textLength="14.9" lengthAdjust="spacingAndGlyphs">m</text>
<text x="232.7" y="379.6" font-size="12.5" font-weight="bold" textLength="14.3" lengthAdjust="spacingAndGlyphs">ba</text>
<text x="255.7" y="375.9" font-size="16.5" font-weight="bold" textLength="6.3" lengthAdjust="spacingAndGlyphs">(</text>
<text x="262.5" y="376.6" font-size="19.2" font-weight="bold" textLength="37.7" lengthAdjust="spacingAndGlyphs">GeV</text>
<text x="300.9" y="375.9" font-size="16.5" font-weight="bold" textLength="6.3" lengthAdjust="spacingAndGlyphs">)</text>
<g transform="translate(0,245) rotate(-90)"><text x="1.4" y="14.6" font-size="19.2" font-weight="bold" textLength="8.8" lengthAdjust="spacingAndGlyphs">1</text><rect x="0.0" y="25" width="11.1" height="1.9"/><text x="1.8" y="47.4" font-size="19.2" font-weight="bold" textLength="10.6" lengthAdjust="spacingAndGlyphs">Γ</text><text x="25.7" y="14.6" font-size="19.2" font-weight="bold" textLength="21" lengthAdjust="spacingAndGlyphs">dΓ</text><rect x="16.9" y="25" width="39.6" height="1.9"/><text x="17.2" y="47.4" font-size="19.2" font-weight="bold" textLength="24" lengthAdjust="spacingAndGlyphs">dm</text><text x="41.7" y="50.6" font-size="12.5" font-weight="bold" textLength="13.6" lengthAdjust="spacingAndGlyphs">ba</text><text x="63.6" y="29.8" font-size="17.2" font-weight="bold">(</text><text x="69.2" y="31.25" font-size="20.3" font-weight="bold" textLength="35.6" lengthAdjust="spacingAndGlyphs">GeV</text><rect x="105.9" y="18.1" width="7.4" height="1.6"/><text x="113.8" y="22.7" font-size="14.5" font-weight="bold">1</text><text x="121.3" y="29.8" font-size="17.2" font-weight="bold">)</text></g>
</svg>
</body></html>
